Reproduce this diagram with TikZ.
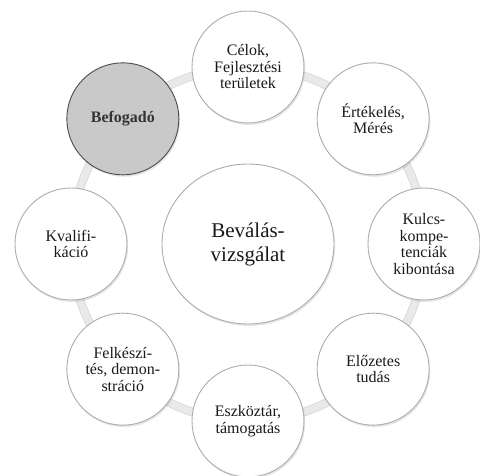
\documentclass[tikz,border=0pt]{standalone}
\usepackage{fontspec}
\setmainfont{Liberation Serif}
\usetikzlibrary{shapes.geometric,shadows,backgrounds}

\begin{document}
\begin{tikzpicture}[
  x=1pt, y=1pt,
  block/.style={circle, draw=gray!65, line width=0.9pt, fill=white, minimum size=112pt, inner sep=1pt,
    align=center, text=black!90, font=\fontsize{16}{16.5}\selectfont,
    drop shadow={shadow xshift=1.2pt, shadow yshift=-2pt, opacity=0.2}},
  hub/.style={ellipse, draw=gray!65, line width=0.9pt, fill=white, minimum width=172pt, minimum height=160pt,
    align=center, text=black!90, font=\fontsize{21}{24}\selectfont,
    drop shadow={shadow xshift=1.2pt, shadow yshift=-2pt, opacity=0.2}},
  ring/.style={draw=gray!32, line width=0.8pt, double=gray!17, double distance=7pt}
]
\useasboundingbox (-248,-232) rectangle (232,244);

% Center
\node[hub] (bevalas) at (0,0) {Beválás-\\vizsgálat};

% Outer nodes
\node[block] (celok) at (90:177) {Célok,\\Fejlesztési\\területek};
\node[block] (ertekeles) at (45:177) {Értékelés,\\Mérés};
\node[block] (kulcs) at (0:176) {Kulcs-\\kompe-\\tenciák\\kibontása};
\node[block] (elozetes) at (-45:177) {Előzetes\\tudás};
\node[block] (eszkoztar) at (-90:177) {Eszköztár,\\támogatás};
\node[block] (felkeszites) at (-135:177) {Felkészí-\\tés, demon-\\stráció};
\node[block] (kvalifikacio) at (180:177) {Kvalifi-\\káció};
\node[block, fill=gray!42, draw=black!70, text=black!80, font=\fontsize{16}{16.5}\selectfont\bfseries] (befogado) at (135:177) {Befogadó};

% Ring
\begin{scope}[on background layer]
\draw[ring] (bevalas.center) circle[radius=177];
\end{scope}
\end{tikzpicture}
\end{document}
